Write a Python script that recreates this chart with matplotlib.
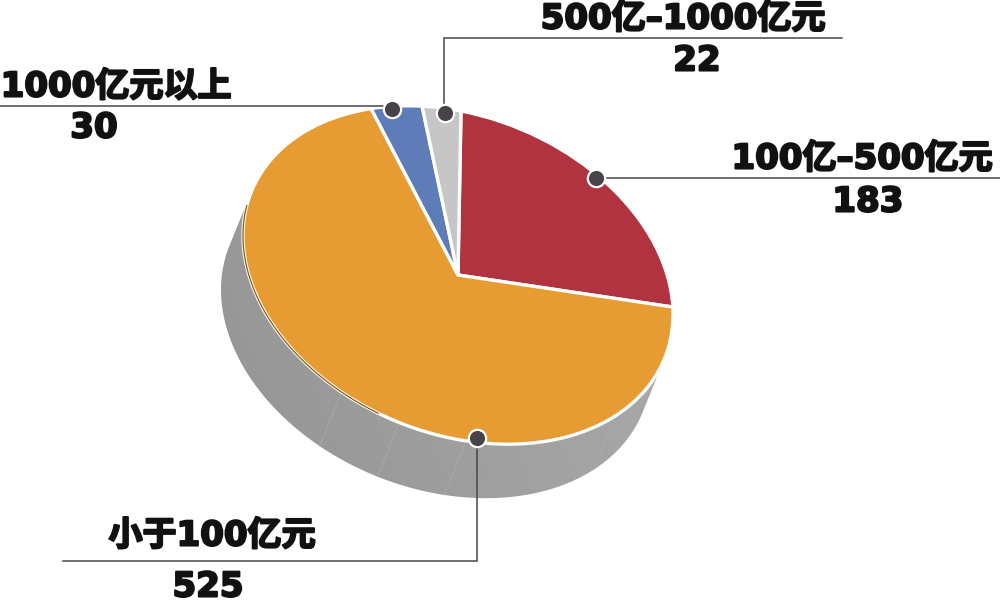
import numpy as np
import matplotlib
matplotlib.use("Agg")
import matplotlib.pyplot as plt
import matplotlib.patheffects as pe
from matplotlib.patches import PathPatch
from matplotlib.path import Path
from matplotlib.transforms import Affine2D

categories = ["100亿–500亿元", "小于100亿元", "1000亿元以上", "500亿–1000亿元"]
values = [183, 525, 30, 22]
value_labels = ["183", "525", "30", "22"]
colors = ["#b1333f", "#e79b33", "#5d7cb8", "#c6c6c6"]

# layout (pixels)
CENTER = (458, 275)
OFFSET = np.array([-22.0, 54.0])
DOT = "#474348"
M = np.array([[215.0, 3.0], [41.6, -164.0]])  # unit circle -> skewed ellipse

fig = plt.figure(figsize=(10, 6.02), dpi=100, facecolor="white")
ax = fig.add_axes([0, 0, 1, 1])


def ell(deg):
    a = np.radians(deg)
    c = np.vstack([np.cos(a), np.sin(a)])
    return (M @ c).T + np.array(CENTER)


# extruded side
u = np.linalg.solve(M, OFFSET)
th = np.radians(np.linspace(0, 360, 721))
circ = np.vstack([np.cos(th), np.sin(th)])
side = (M @ circ).T + np.array(CENTER) + np.outer((circ.T @ u) > 0, OFFSET)
clip = PathPatch(Path(side, closed=False), fc="none", ec="none", transform=ax.transData)
ax.add_patch(clip)
gx, gy = np.meshgrid(np.linspace(0, 1, 200), np.linspace(0, 1, 200))
mix = 0.8 * gx + 0.2 * (1 - gy)
grad = 0.58 * (1 - mix) + 0.67 * mix
im = ax.imshow(grad, extent=(215, 680, 500, 190), cmap="gray", vmin=0, vmax=1,
               aspect="auto", zorder=1)
im.set_clip_path(clip)

# facet seams on the side
for deg in (238, 255, 273, 318):
    p = ell(np.array([deg]))[0]
    q = p + OFFSET
    ax.plot([p[0], q[0]], [p[1], q[1]], color="#b5a99e", lw=0.7, alpha=0.8, zorder=2)

# top face
wedges, _ = ax.pie(values, colors=colors, startangle=90, counterclock=False,
                   wedgeprops=dict(edgecolor="white", linewidth=2.4))
aff = Affine2D(matrix=np.array([[M[0, 0], M[0, 1], CENTER[0]],
                                [M[1, 0], M[1, 1], CENTER[1]],
                                [0, 0, 1]])) + ax.transData
for w in wedges:
    w.set_transform(aff)
    w.set_zorder(3)

# dark rim on the left of the orange slice
rim = ell(np.linspace(170, 249, 100))
ax.plot(rim[:, 0], rim[:, 1], color="#8a5a12", lw=0.9, zorder=4)

ax.set_aspect("auto")
ax.set_xlim(0, 1000)
ax.set_ylim(602, 0)
ax.axis("off")

# leader lines and dots
leaders = [
    [(0, 106), (392, 106)],
    [(842, 38), (444, 38), (444, 113)],
    [(1000, 178), (596, 178)],
    [(63, 561), (477, 561), (477, 438)],
]
for pts in leaders:
    xs, ys = zip(*pts)
    ax.plot(xs, ys, color="#4a444a", lw=1.1, zorder=5, solid_joinstyle="miter")
dots = [(392, 109), (444.5, 113), (596, 178), (477, 438)]
for x, y in dots:
    ax.plot([x], [y], "o", ms=12.5, mfc=DOT, mec="white", mew=1.6, zorder=6)

# labels
label_pos = {
    "1000亿元以上": (116, 87),
    "30": (94, 128),
    "500亿–1000亿元": (683, 19),
    "22": (697, 61),
    "100亿–500亿元": (862, 159),
    "183": (868, 202),
    "小于100亿元": (212, 536),
    "525": (208, 587),
}
stroke = [pe.withStroke(linewidth=1.5, foreground="#111111")]
for cat, val in zip(categories, value_labels):
    for s in (cat, val):
        x, y = label_pos[s]
        ax.text(x, y, s, ha="center", va="center", fontsize=24.5, color="#111111",
                family=["DejaVu Sans", "Noto Sans CJK SC"], weight="black",
                path_effects=stroke, zorder=7)

fig.savefig("out.png", dpi=100, facecolor="white")
